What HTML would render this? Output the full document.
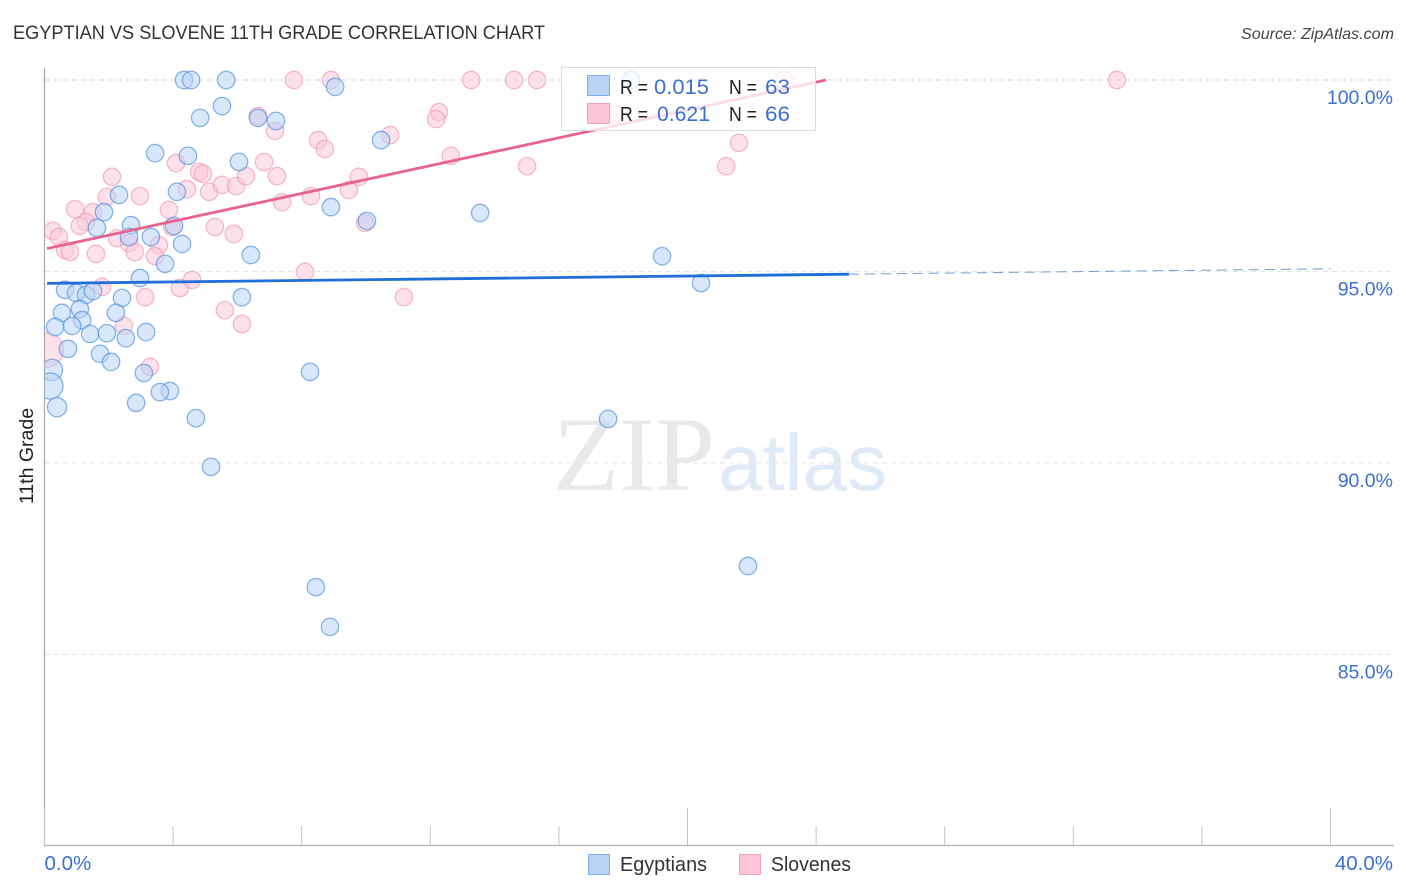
<!DOCTYPE html>
<html lang="en">
<head>
<meta charset="utf-8">
<title>Egyptian vs Slovene 11th Grade Correlation Chart</title>
<style>
html,body{margin:0;padding:0;background:#fff;width:1406px;height:892px;overflow:hidden}
svg{display:block;font-family:"Liberation Sans",sans-serif}
</style>
</head>
<body>
<svg id="chart" width="1406" height="892" viewBox="0 0 1406 892" xmlns="http://www.w3.org/2000/svg">
  <defs><clipPath id="plot-clip"><rect x="45" y="60" width="1349" height="785"/></clipPath></defs>
  <text x="13" y="39" font-size="19" fill="#333" textLength="532" lengthAdjust="spacingAndGlyphs">EGYPTIAN VS SLOVENE 11TH GRADE CORRELATION CHART</text>
  <text x="1394" y="39" font-size="16" font-style="italic" fill="#444" text-anchor="end" textLength="153" lengthAdjust="spacingAndGlyphs">Source: ZipAtlas.com</text>
  <text transform="translate(33,456) rotate(-90)" font-size="19.5" fill="#222" text-anchor="middle">11th Grade</text>

  <g>
    <text x="553" y="490" font-family="'Liberation Serif',serif" font-size="106" fill="#e9e9e9" textLength="162" lengthAdjust="spacingAndGlyphs">ZIP</text>
    <text x="718" y="490" font-size="80" fill="#dfe9f7" textLength="169" lengthAdjust="spacingAndGlyphs">atlas</text>
  </g>

  <g id="grid"></g>
  <g id="axes"></g>
  <g id="pink-points" clip-path="url(#plot-clip)"></g>
  <g id="blue-points" clip-path="url(#plot-clip)"></g>
  <g id="trends"></g>

  <g>
    <rect x="561.5" y="67.5" width="254" height="63" fill="#fff" fill-opacity="0.78" stroke="#dcdcdc" stroke-width="1"/>
    <rect x="587.5" y="75.5" width="22" height="20" fill="#b8d3f6" stroke="#7fb0e6"/>
    <rect x="587.5" y="103.5" width="22" height="20" fill="#fcc4d6" stroke="#f0a3bb"/>
    <text x="620" y="94" font-size="20" fill="#222" textLength="28" lengthAdjust="spacingAndGlyphs">R =</text>
    <text x="654" y="94" font-size="21.5" fill="#3b6fd1" textLength="55" lengthAdjust="spacingAndGlyphs">0.015</text>
    <text x="729" y="94" font-size="20" fill="#222" textLength="28" lengthAdjust="spacingAndGlyphs">N =</text>
    <text x="765" y="94" font-size="21.5" fill="#3b6fd1" textLength="25" lengthAdjust="spacingAndGlyphs">63</text>
    <text x="620" y="121" font-size="20" fill="#222" textLength="28" lengthAdjust="spacingAndGlyphs">R =</text>
    <text x="657" y="121" font-size="21.5" fill="#3b6fd1" textLength="53" lengthAdjust="spacingAndGlyphs">0.621</text>
    <text x="729" y="121" font-size="20" fill="#222" textLength="28" lengthAdjust="spacingAndGlyphs">N =</text>
    <text x="765" y="121" font-size="21.5" fill="#3b6fd1" textLength="25" lengthAdjust="spacingAndGlyphs">66</text>
  </g>

  <g>
    <rect x="588.5" y="854.5" width="21" height="20" fill="#b8d3f6" stroke="#7fb0e6"/>
    <text x="620" y="871" font-size="20" fill="#333" textLength="87" lengthAdjust="spacingAndGlyphs">Egyptians</text>
    <rect x="739.5" y="854.5" width="21" height="20" fill="#fcc4d6" stroke="#f0a3bb"/>
    <text x="771" y="871" font-size="20" fill="#333" textLength="80" lengthAdjust="spacingAndGlyphs">Slovenes</text>
  </g>
</svg>
<script>
const yTickValues = [100, 95, 90, 85];
const yTickLabels = ["100.0%", "95.0%", "90.0%", "85.0%"];
const xTickValues = [0, 4, 8, 12, 16, 20, 24, 28, 32, 36, 40];
const xMajorTicks = [0, 20, 40];
const xEndValues = [0, 40];
const xEndLabels = ["0.0%", "40.0%"];

const egyptianX = [4.34,4.56,5.65,18.24,9.04,5.52,4.84,6.64,7.20,10.47,3.44,4.46,6.05,4.12,2.32,8.91,1.85,13.55,10.03,1.63,2.69,4.03,2.63,3.31,4.28,6.42,19.21,3.75,2.97,20.42,0.64,0.98,1.29,1.51,2.41,6.14,1.10,0.54,2.22,0.33,1.17,0.86,1.42,1.94,2.53,3.16,0.73,1.73,2.07,8.26,0.23,3.09,0.17,3.90,3.59,2.85,0.39,4.71,17.53,5.18,21.88,8.44,8.88];
const egyptianY = [100,100,100,100,99.82,99.32,99.01,99.01,98.93,98.43,98.09,98.02,97.86,97.08,97.00,96.68,96.55,96.53,96.32,96.14,96.21,96.19,95.90,95.90,95.72,95.43,95.40,95.20,94.83,94.70,94.52,94.44,94.39,94.49,94.31,94.33,94.02,93.92,93.92,93.55,93.73,93.58,93.37,93.39,93.26,93.42,92.98,92.85,92.64,92.38,92.43,92.35,92.01,91.88,91.85,91.57,91.46,91.17,91.15,89.90,87.31,86.76,85.72];
const egyptianWeights = {50: 1.5, 52: 2.25, 56: 1.23};

const sloveneX = [7.76,8.91,13.27,14.60,15.32,23.00,33.36,21.60,21.20,17.74,6.64,7.17,4.09,4.81,4.93,2.10,4.43,5.12,5.52,5.96,6.27,6.83,7.23,7.39,2.97,1.94,0.95,1.51,1.29,1.10,3.87,3.97,5.30,5.89,0.26,0.45,2.26,2.63,3.56,0.64,0.79,1.60,2.81,3.44,1.79,3.13,4.21,4.59,5.61,6.14,2.47,3.28,0.05,8.51,8.72,10.75,12.27,12.18,12.64,9.78,9.47,8.29,9.97,8.10,11.18,15.01];
const sloveneY = [100,100,100,100,100,100,100,98.36,97.75,99.09,99.06,98.67,97.83,97.60,97.55,97.47,97.15,97.08,97.26,97.23,97.49,97.86,97.49,96.81,96.97,96.95,96.63,96.55,96.29,96.19,96.61,96.16,96.16,95.98,96.06,95.90,95.87,95.74,95.69,95.56,95.51,95.46,95.51,95.40,94.60,94.33,94.57,94.78,93.99,93.63,93.58,92.51,92.95,98.43,98.20,98.56,99.16,98.98,98.02,97.47,97.13,96.97,96.27,94.99,94.33,97.75];
const sloveneWeights = {52: 4};

const egyptianTrendX = [0.08, 25.02];
const egyptianTrendY = [94.69, 94.93];
const egyptianForecastX = [25.02, 40];
const egyptianForecastY = [94.93, 95.07];
const sloveneTrendX = [0.08, 24.31];
const sloveneTrendY = [95.6, 100];

const NS = "http://www.w3.org/2000/svg";
function xPos(v) { return 44.5 + v * 32.15; }
function yPos(v) { return 80 + (100 - v) * 38.3; }
function make(tag, attrs, parent) {
  const el = document.createElementNS(NS, tag);
  for (const k in attrs) el.setAttribute(k, attrs[k]);
  parent.appendChild(el);
  return el;
}

const gridG = document.getElementById("grid");
const axesG = document.getElementById("axes");
yTickValues.forEach(function (v, i) {
  const line = make("line", {x1: 45, x2: 1394, y1: yPos(v), y2: yPos(v), stroke: i === 0 ? "#d8d8d8" : "#e6e6e6", "stroke-width": 1, "stroke-dasharray": "5 4"}, gridG);
  
  
  const label = make("text", {x: 1393, y: yPos(v) + 24, "font-size": 19.5, fill: "#3b6fd1", "text-anchor": "end"}, axesG);
  label.textContent = yTickLabels[i];
  
  
});

const yAxis = make("line", {x1: 44.5, x2: 44.5, y1: 68, y2: 845, stroke: "#aaa", "stroke-width": 1.2}, axesG);


const xAxis = make("line", {x1: 44, x2: 1394, y1: 845.5, y2: 845.5, stroke: "#b4b4b4", "stroke-width": 1.2}, axesG);



xTickValues.forEach(function (v) {
  const top = xMajorTicks.indexOf(v) >= 0 ? 808 : 826;
  const tick = make("line", {x1: xPos(v), x2: xPos(v), y1: top, y2: 845, stroke: "#c4c4c4", "stroke-width": 1}, axesG);
  
  
});
xEndValues.forEach(function (v, i) {
  const label = make("text", {x: i === 0 ? xPos(v) : 1393, y: 870, "font-size": 20.5, fill: "#3b6fd1", "text-anchor": i === 0 ? "start" : "end"}, axesG);
  label.textContent = xEndLabels[i];
  
  
});

function drawPoints(xs, ys, weights, parent, fill, stroke, fillOpacity, strokeOpacity, name) {
  xs.forEach(function (v, i) {
    const w = weights[i] || 1;
    const c = make("circle", {cx: xPos(v), cy: yPos(ys[i]), r: 8.7 * Math.sqrt(w), fill: fill, "fill-opacity": fillOpacity, stroke: stroke, "stroke-opacity": strokeOpacity, "stroke-width": 1.3}, parent);
    
    
  });
}
drawPoints(sloveneX, sloveneY, sloveneWeights, document.getElementById("pink-points"), "#fbc8d8", "#ee8fae", 0.55, 0.6, "slovenes-point");
drawPoints(egyptianX, egyptianY, egyptianWeights, document.getElementById("blue-points"), "#b9d3f5", "#4a8fe0", 0.55, 0.65, "egyptians-point");

const trendG = document.getElementById("trends");
const forecast = make("line", {x1: xPos(egyptianForecastX[0]), y1: yPos(egyptianForecastY[0]), x2: xPos(egyptianForecastX[1]), y2: yPos(egyptianForecastY[1]), stroke: "#6a9fdc", "stroke-width": 1, "stroke-dasharray": "10 6"}, trendG);


const blueTrend = make("line", {x1: xPos(egyptianTrendX[0]), y1: yPos(egyptianTrendY[0]), x2: xPos(egyptianTrendX[1]), y2: yPos(egyptianTrendY[1]), stroke: "#1f6fd6", "stroke-width": 2.8}, trendG);


const pinkTrend = make("line", {x1: xPos(sloveneTrendX[0]), y1: yPos(sloveneTrendY[0]), x2: xPos(sloveneTrendX[1]), y2: yPos(sloveneTrendY[1]), stroke: "#e8638f", "stroke-width": 2.8}, trendG);


</script>
</body>
</html>
